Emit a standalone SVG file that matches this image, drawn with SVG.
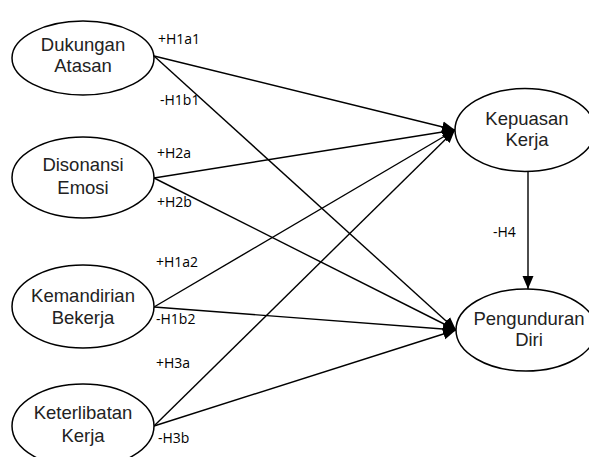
<svg xmlns="http://www.w3.org/2000/svg" width="589" height="457" viewBox="0 0 589 457">
<style>
.node ellipse{fill:#fff;stroke:#000;stroke-width:1.5}
.node text{font-family:"Liberation Sans",Arial,sans-serif;font-size:18.5px;fill:#222;text-anchor:middle}
.edges line{stroke:#000;stroke-width:1.4;marker-end:url(#arr)}
.lbl{font-family:"Open Sans","Liberation Sans",sans-serif;font-size:14px;fill:#000}
</style>
<defs>
<marker id="arr" markerUnits="userSpaceOnUse" markerWidth="14" markerHeight="12" refX="13" refY="6" orient="auto">
<path d="M0,0.5 L13,6 L0,11.5 z" fill="#000"/>
</marker>
</defs>
<rect width="589" height="457" fill="#fff"/>
<g class="edges">
<line x1="154" y1="56" x2="455" y2="130"/>
<line x1="154" y1="56" x2="456" y2="330"/>
<line x1="154" y1="178" x2="455" y2="130"/>
<line x1="154" y1="178" x2="456" y2="330"/>
<line x1="154" y1="307" x2="455" y2="130"/>
<line x1="154" y1="307" x2="456" y2="330"/>
<line x1="154" y1="426" x2="455" y2="130"/>
<line x1="154" y1="426" x2="456" y2="330"/>
<line x1="528" y1="171" x2="528" y2="289"/>
</g>
<g id="dukungan" class="node">
<ellipse cx="83" cy="58" rx="71" ry="37"/>
<text x="83" y="51">Dukungan</text>
<text x="83" y="72">Atasan</text>
</g>
<g id="disonansi" class="node">
<ellipse cx="83" cy="177.5" rx="71" ry="40.5"/>
<text x="83" y="171">Disonansi</text>
<text x="83" y="194">Emosi</text>
</g>
<g id="kemandirian" class="node">
<ellipse cx="83" cy="306.5" rx="71" ry="41.5"/>
<text x="83" y="302">Kemandirian</text>
<text x="83" y="324">Bekerja</text>
</g>
<g id="keterlibatan" class="node">
<ellipse cx="83" cy="426" rx="71" ry="42"/>
<text x="83" y="419">Keterlibatan</text>
<text x="83" y="442">Kerja</text>
</g>
<g id="kepuasan" class="node">
<ellipse cx="525" cy="130" rx="70" ry="41.5"/>
<text x="527" y="125">Kepuasan</text>
<text x="527" y="146">Kerja</text>
</g>
<g id="pengunduran" class="node">
<ellipse cx="526" cy="330" rx="70" ry="41"/>
<text x="529" y="325">Pengunduran</text>
<text x="529" y="346">Diri</text>
</g>
<g id="labels">
<text class="lbl" x="158" y="44">+H1a1</text>
<text class="lbl" x="160" y="105">-H1b1</text>
<text class="lbl" x="157" y="158">+H2a</text>
<text class="lbl" x="157" y="207">+H2b</text>
<text class="lbl" x="156" y="267">+H1a2</text>
<text class="lbl" x="156" y="324">-H1b2</text>
<text class="lbl" x="156" y="368">+H3a</text>
<text class="lbl" x="158" y="443">-H3b</text>
<text class="lbl" x="493" y="237">-H4</text>
</g>
</svg>
